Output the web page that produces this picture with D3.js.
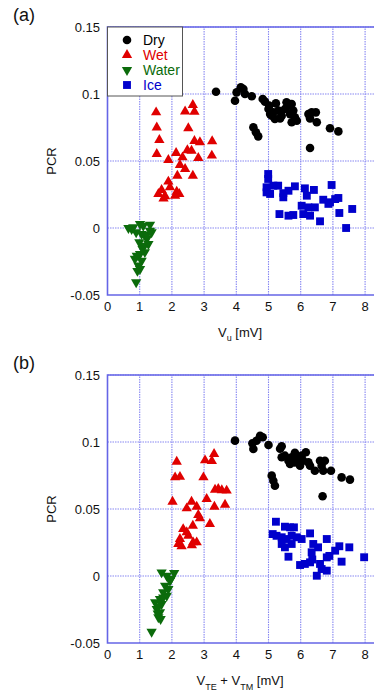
<!DOCTYPE html>
<html><head><meta charset="utf-8">
<script src="https://cdn.jsdelivr.net/npm/d3@7"></script>
<style>
html,body{margin:0;padding:0;background:#fff;}
svg{display:block;font-family:"Liberation Sans",Arial,sans-serif;}
</style></head>
<body><svg id="c" width="374" height="697"></svg>
<script>
// ---- data ----
const seriesNames = ["Dry", "Wet", "Water", "Ice"];
const xTicks = [0,1,2,3,4,5,6,7,8];
const yTicks = [-0.05, 0, 0.05, 0.1, 0.15];
const yTickLabels = ["-0.05", "0", "0.05", "0.1", "0.15"];

// Panel (a): x = Vu [mV], y = PCR
const dryA = [[3.37,0.1017],[4.14,0.105],[4.22,0.1037],[4.01,0.1012],[3.96,0.095],[4.27,0.100],[4.48,0.0983],[4.82,0.0963],[4.89,0.0943],[5.0,0.0888],[5.15,0.0863],[5.10,0.0838],[5.31,0.0876],[5.41,0.0838],[5.51,0.0888],[5.62,0.0913],[5.72,0.0925],[5.77,0.0876],[5.67,0.085],[5.82,0.0826],[5.72,0.0789],[5.88,0.080],[5.36,0.0818],[5.20,0.0813],[5.05,0.085],[6.24,0.085],[6.34,0.0863],[6.47,0.0863],[6.29,0.0818],[6.50,0.0789],[4.53,0.0751],[4.61,0.0714],[4.68,0.0684],[6.91,0.0744],[7.17,0.0721],[6.29,0.0597],[5.02,0.0913],[5.23,0.093],[5.56,0.0938]];
const wetA = [[1.51,0.0863],[2.65,0.0918],[2.41,0.087],[2.70,0.0868],[1.53,0.075],[2.51,0.0744],[1.61,0.0657],[1.53,0.0552],[1.89,0.0507],[2.13,0.056],[2.48,0.058],[2.70,0.065],[2.87,0.064],[3.25,0.0647],[3.24,0.054],[2.82,0.0522],[2.61,0.0577],[2.33,0.0527],[2.25,0.047],[2.41,0.044],[2.17,0.039],[2.65,0.039],[1.89,0.0346],[1.94,0.0304],[1.68,0.0284],[1.58,0.0254],[1.79,0.0237],[2.15,0.0271],[2.23,0.0254],[2.10,0.024],[1.74,0.022]];
const waterA = [[0.75,-0.0007],[1.01,0.003],[1.11,0.0017],[1.32,0.0025],[0.89,-0.0032],[1.06,-0.0045],[1.37,-0.0032],[1.22,-0.0082],[1.11,-0.0132],[1.27,-0.012],[1.01,-0.0194],[1.16,-0.018],[0.91,-0.0207],[1.06,-0.0244],[0.96,-0.028],[1.01,-0.0306],[0.89,-0.0405],[1.22,-0.005],[0.80,0.0005],[0.65,0.0],[1.32,-0.002],[0.99,-0.0107],[1.09,-0.0157],[0.85,-0.023],[0.93,-0.032]];
const iceA = [[4.99,0.0403],[4.99,0.0366],[4.94,0.0304],[5.15,0.0316],[5.30,0.0316],[4.94,0.0266],[5.05,0.0254],[5.46,0.0229],[5.62,0.0278],[5.82,0.0311],[6.13,0.0296],[6.19,0.0241],[6.41,0.0284],[6.96,0.0321],[6.70,0.0211],[6.91,0.0192],[7.07,0.0216],[7.17,0.0224],[6.03,0.0166],[6.24,0.0154],[6.44,0.0154],[6.08,0.0104],[6.29,0.0092],[5.34,0.0104],[5.62,0.0092],[5.77,0.0097],[6.60,0.005],[7.20,0.0112],[7.60,0.0142],[7.41,0.0],[6.86,0.018],[5.46,0.026]];

// Panel (b): x = VTE + VTM [mV], y = PCR
const dryB = [[3.96,0.101],[4.74,0.1047],[4.82,0.1035],[4.63,0.101],[4.53,0.0948],[5.0,0.0978],[5.41,0.0968],[5.36,0.095],[5.51,0.0898],[5.62,0.086],[5.72,0.0886],[5.82,0.0848],[5.93,0.0873],[6.03,0.0898],[6.16,0.0923],[6.08,0.086],[6.24,0.0848],[6.29,0.0823],[5.98,0.0823],[5.67,0.0836],[6.44,0.0786],[6.60,0.086],[6.75,0.086],[6.65,0.0823],[6.70,0.0786],[6.94,0.0786],[7.27,0.0736],[7.53,0.0719],[5.10,0.0749],[5.15,0.0711],[5.20,0.0674],[6.68,0.0595],[5.41,0.0886],[4.5,0.099],[5.82,0.092]];
const wetB = [[2.15,0.0853],[3.31,0.091],[3.03,0.0863],[3.24,0.0858],[2.10,0.0736],[2.25,0.074],[2.98,0.0736],[2.02,0.0554],[3.34,0.0644],[3.44,0.0649],[3.70,0.0637],[3.65,0.0532],[3.08,0.0575],[2.61,0.0554],[2.46,0.0505],[2.77,0.0517],[3.32,0.0517],[2.82,0.0455],[2.87,0.043],[3.18,0.0388],[2.65,0.0375],[2.35,0.035],[2.46,0.0326],[2.25,0.0276],[2.20,0.0239],[2.30,0.0222],[2.66,0.0251],[2.77,0.0251],[2.62,0.0230],[2.51,0.030],[3.55,0.064]];
const waterB = [[1.68,0.0027],[2.07,0.0022],[1.84,0.0002],[1.94,-0.0035],[1.79,-0.0072],[1.89,-0.0097],[1.73,-0.0122],[1.84,-0.0147],[1.63,-0.0172],[1.48,-0.0196],[1.68,-0.0209],[1.53,-0.0246],[1.63,-0.0271],[1.58,-0.0308],[1.65,-0.0321],[1.37,-0.0416],[1.97,-0.002],[1.73,-0.016],[1.58,-0.023],[1.56,-0.028]];
const iceB = [[5.23,0.0405],[5.13,0.0313],[5.25,0.030],[5.51,0.0368],[5.67,0.0363],[5.79,0.0363],[5.41,0.0289],[5.56,0.0276],[5.72,0.030],[5.88,0.0289],[6.03,0.0276],[6.29,0.0318],[5.41,0.0239],[5.51,0.0214],[5.72,0.0239],[6.39,0.0239],[6.54,0.0214],[6.81,0.0276],[7.2,0.0222],[7.51,0.0214],[7.07,0.0189],[6.34,0.0177],[5.62,0.0144],[6.81,0.0139],[6.89,0.015],[7.27,0.0107],[5.98,0.0082],[6.13,0.009],[6.29,0.0102],[6.60,0.009],[6.65,0.0052],[6.81,0.004],[6.50,0.0002],[7.97,0.014],[6.36,0.0123]];

// ---- style ----
const colors = {Dry:"#000000", Wet:"#e00000", Water:"#0b6b0b", Ice:"#0000cc"};
const svg = d3.select("#c");

function marker(name){
  if(name==="Dry") return {path:d3.symbol(d3.symbolCircle, 58)(), rot:0};
  if(name==="Wet") return {path:d3.symbol(d3.symbolTriangle, 46)(), rot:0};
  if(name==="Water") return {path:d3.symbol(d3.symbolTriangle, 46)(), rot:180};
  return {path:d3.symbol(d3.symbolSquare, 62)(), rot:0};
}

function panel(opts){
  const left = 107.5, top = opts.top, h = 268;
  const x = d3.scaleLinear().domain([0, 8.6]).range([left, left + 8.6*32.2]);
  const y = d3.scaleLinear().domain([-0.05, 0.15]).range([top + h, top]);
  const g = svg.append("g");

  // grid
  g.selectAll(".gx").data(xTicks.slice(1)).join("line")
    .attr("x1", d=>x(d)).attr("x2", d=>x(d)).attr("y1", y(-0.05)).attr("y2", y(0.15))
    .attr("stroke", "#8787f2").attr("stroke-width", 1.1).attr("stroke-dasharray", "1.5,1");
  g.selectAll(".gy").data(yTicks.slice(1)).join("line")
    .attr("x1", x(0)).attr("x2", 374).attr("y1", d=>y(d)).attr("y2", d=>y(d))
    .attr("stroke", "#8787f2").attr("stroke-width", 1.1).attr("stroke-dasharray", "1.5,1");

  // frame
  g.append("path").attr("d", `M${x(8.6)},${y(0.15)}H${x(0)}V${y(-0.05)}H${x(8.6)}`)
    .attr("fill","none").attr("stroke","#6565e6").attr("stroke-width",1.6);

  // tick labels
  g.selectAll(".ty").data(yTicks).join("text")
    .attr("x", 100).attr("y", d=>y(d)).attr("dy","0.36em")
    .attr("text-anchor","end").attr("font-size",13).attr("fill","#111")
    .text((d,i)=>yTickLabels[i]);
  g.selectAll(".tx").data(xTicks).join("text")
    .attr("x", d=>x(d)).attr("y", y(-0.05)+16).attr("text-anchor","middle")
    .attr("font-size",13).attr("fill","#111").text(d=>d);

  // axis titles
  g.append("text").attr("transform", `translate(56,${y(0.05)}) rotate(-90)`)
    .attr("text-anchor","middle").attr("font-size",13).attr("fill","#111").text("PCR");
  g.append("text").attr("x", 13).attr("y", top - 6).attr("font-size",18).attr("fill","#111").text(opts.label);

  const xl = g.append("text").attr("x", opts.xlabX).attr("y", y(-0.05)+42)
    .attr("text-anchor","middle").attr("font-size",13).attr("fill","#111");
  opts.xlabel(xl);

  // data
  opts.series.forEach(([name, data])=>{
    const m = marker(name);
    g.selectAll(null).data(data).join("path")
      .attr("d", m.path)
      .attr("transform", d=>`translate(${x(d[0])},${y(d[1])}) rotate(${m.rot})`)
      .attr("fill", colors[name]);
  });

  // legend
  if(opts.legend){
    const lg = g.append("g");
    lg.append("rect").attr("x", x(0)).attr("y", y(0.15)).attr("width", 75).attr("height", 69)
      .attr("fill","#fff").attr("stroke","#555").attr("stroke-width",1);
    seriesNames.forEach((name,i)=>{
      const m = marker(name);
      const cy = y(0.15) + 13 + i*15;
      lg.append("path").attr("d", m.path).attr("transform", `translate(127,${cy}) rotate(${m.rot})`)
        .attr("fill", colors[name]);
      lg.append("text").attr("x", 143).attr("y", cy).attr("dy","0.36em")
        .attr("font-size",14).attr("fill", colors[name]).text(name);
    });
  }
}

panel({top:27, label:"(a)", legend:true, xlabX:240,
  series:[["Dry",dryA],["Wet",wetA],["Water",waterA],["Ice",iceA]],
  xlabel: t=>{
    t.append("tspan").text("V");
    t.append("tspan").attr("font-size",9).attr("dy",4).text("u");
    t.append("tspan").attr("dy",-4).text(" [mV]");
  }});

panel({top:375, label:"(b)", legend:false, xlabX:240,
  series:[["Dry",dryB],["Wet",wetB],["Water",waterB],["Ice",iceB]],
  xlabel: t=>{
    t.append("tspan").text("V");
    t.append("tspan").attr("font-size",9).attr("dy",5).text("TE");
    t.append("tspan").attr("dy",-5).text(" + V");
    t.append("tspan").attr("font-size",9).attr("dy",5).text("TM");
    t.append("tspan").attr("dy",-5).text(" [mV]");
  }});
</script>
</body></html>
